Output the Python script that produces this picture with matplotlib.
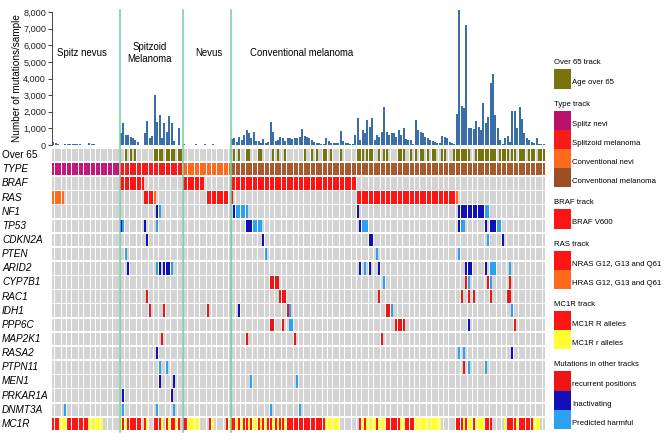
import matplotlib
matplotlib.use("Agg")
import matplotlib.pyplot as plt
from matplotlib.patches import Rectangle
from matplotlib.lines import Line2D
from matplotlib import transforms

plt.rcParams['font.family'] = ['Liberation Sans', 'DejaVu Sans']

# ---------------- data ----------------
group_names = ["Spitz nevus", "Spitzoid\nMelanoma", "Nevus", "Conventional melanoma"]
group_sizes = [28, 26, 20, 130]
group_type = ["S", "M", "N", "C"]

mut_spitz_nevus = [200, 120, 40, 30, 30, 80, 90, 80, 60, 50, 40, 40, 30, 20, 20, 150,
                   60, 40, 30, 20, 30, 20, 30, 20, 30, 20, 30, 20]
mut_spitzoid_mel = [750, 1350, 600, 580, 500, 400, 280, 180, 30, 30, 750, 1450, 400, 520,
                    3000, 1400, 1800, 450, 1350, 800, 1750, 1300, 250, 30, 1050, 30]
mut_nevus = [40, 30, 30, 20, 30, 40, 30, 30, 20, 60, 30, 20, 40, 30, 20, 30, 20, 30, 30, 30]
mut_conventional = [380, 400, 200, 500, 300, 600, 900, 750, 400, 760,
                    250, 250, 150, 350, 100, 200, 1400, 800, 250, 300,
                    500, 400, 250, 400, 400, 350, 400, 400, 500, 950,
                    550, 500, 450, 300, 200, 150, 100, 50, 40, 450,
                    250, 150, 150, 100, 100, 850, 250, 150, 100, 60,
                    40, 600, 1600, 300, 900, 700, 1500, 1100,
                    1600, 300, 600, 500, 800, 2300, 800, 600, 700, 700,
                    500, 900, 600, 1000, 350, 300, 300, 40, 1500, 900,
                    800, 700, 500, 400, 300, 250, 200, 150, 100, 550,
                    500, 400, 200, 100, 50, 1850, 8150, 2350, 2250,
                    7200, 1050, 1050, 950, 1450, 1100, 900, 2500, 1300, 1700,
                    3700, 4300, 1800, 1000, 300, 50, 400, 550, 200, 2050,
                    2050, 1000, 2300, 1550, 700, 400, 300, 200, 100, 400,
                    50, 40, 40]

# dense tracks: one character per sample (blocks of 10)
over65 = (".......... .......... .......... O.O.O..... ..OOOO.OOO O.OO...... .......... "
          ".....O.O.. OO...OO... .O.O..O... ....O..O.O ..OO.O...O ......OOO. OOO..O.OO. "
          "...OOO..O. O.OO.O.OO. .OO...OOOO OOO..OOOOO OOOO.OOOO. OO.OOO.OOO .OOO")
braf = (".......... .......... ........VV VVVVVVVV.. .......... ....VVVVVV VVV....... "
        "....VVVVVV VVVVVVVVVV VVVVVVVVVV VVVVVVVVVV VVVVVVVVVV VVVVVV.... .......... "
        ".......... .......... .......... .......... .......... .......... ....")
ras = ("HHHHH..... .......... .......... ........NN NNH....... .......... ....NNNNNN "
       "NNN.N..... .......... .......... .......... .......... ......NNNN NNNNNNNNNN "
       "NNNNNNNNNN NNNNNNNNNN NNNNNNNH.. .......... .......... .......... ....")
mc1r = ("RRRrrrRRRR RRRRRrrrrr r.......rR rRRRRRR.Rr ..RRRr.RrR RrR.RRrrrr r....Rr... "
        "..RrRRrRrR RrRrrRrRrR RrRrRRrRRR RRRRRRRRRR RRRrrrrrr. .......RrR rrrrRrrrRR "
        "RRRRrrRRRR rrrrrrrrrr r......RRR rRrrRrrrrR RR.....rRR RRrRRRRRRr rr..")

# sparse gene tracks: sample indices per mutation class
# R = recurrent positions, I = inactivating, H = predicted harmful
NF1 = {"I": [43, 75, 126, 168, 169, 170, 171, 172, 173, 174, 175, 176, 177, 178],
       "H": [44, 76, 77, 78, 79, 80, 179, 180]}
TP53 = {"I": [28, 38, 80, 81, 82, 127, 168, 179, 181, 182, 183],
        "H": [29, 43, 83, 84, 85, 86, 128, 129, 130, 169, 170, 184, 185]}
CDKN2A = {"I": [39, 87, 131, 132, 186], "H": [180]}
PTEN = {"H": [30, 88, 134, 168]}
ARID2 = {"I": [31, 44, 46, 47, 48, 127, 131, 135, 171, 172, 173, 179],
         "H": [43, 49, 129, 181, 182, 183, 189]}
CYP7B1 = {"R": [90, 91, 92, 93, 171, 180, 189], "H": [137, 172, 181]}
RAC1 = {"R": [39, 94, 95, 96, 135, 169, 172, 174, 181, 188, 189]}
IDH1 = {"R": [40, 46, 64, 97, 138, 139], "I": [77], "H": [98, 140, 190]}
PPP6C = {"R": [90, 91, 95, 142, 143, 144, 145, 191], "I": [172], "H": [98, 99]}
MAP2K1 = {"R": [45, 80, 100, 136]}
RASA2 = {"I": [43, 190], "H": [168, 170]}
PTPN11 = {"R": [170], "H": [44, 47, 172, 179]}
MEN1 = {"I": [44, 50], "H": [82, 101]}
PRKAR1A = {"I": [29, 49]}
DNMT3A = {"H": [5, 29, 43, 50, 90, 102]}

gene_names = ["NF1", "TP53", "CDKN2A", "PTEN", "ARID2", "CYP7B1", "RAC1", "IDH1", "PPP6C",
              "MAP2K1", "RASA2", "PTPN11", "MEN1", "PRKAR1A", "DNMT3A"]
gene_tracks = [NF1, TP53, CDKN2A, PTEN, ARID2, CYP7B1, RAC1, IDH1, PPP6C,
               MAP2K1, RASA2, PTPN11, MEN1, PRKAR1A, DNMT3A]

# ---------------- styles ----------------
GRAY = "#d3d3d3"
OLIVE = "#75750c"
TYPE_COL = {"S": "#c4187a", "M": "#f51c1c", "N": "#ff6a1c", "C": "#a65a2e"}
BRAF_COL = {"V": "#ff1414"}
RAS_COL = {"N": "#ff1414", "H": "#ff6a1c"}
MC1R_COL = {"R": "#ff1414", "r": "#ffff33"}
MUT_COL = {"R": "#ee1515", "I": "#1010b8", "H": "#2ea0f0"}
BAR_COL = "#3a6ea8"
SEP_COL = "#6fcfa2"

N = sum(group_sizes)


def dense(s):
    s = "".join(s.split())
    return (s + "." * N)[:N]


mutations = mut_spitz_nevus + mut_spitzoid_mel + mut_nevus + mut_conventional
types = []
for g, n in zip(group_type, group_sizes):
    types += [g] * n

W, H = 666, 440
fig = plt.figure(figsize=(W / 100, H / 100), dpi=100)
L, R = 52 / W, 545 / W
axb = fig.add_axes([L, (H - 145) / H, R - L, (145 - 12) / H])
axg = fig.add_axes([L, (H - 431) / H, R - L, (431 - 148) / H])

# ---------------- bar chart ----------------
xs = [i + 0.5 for i in range(N)]
axb.bar(xs, mutations, width=0.86, color=BAR_COL, clip_on=False)
axb.set_xlim(0, N)
axb.set_ylim(0, 8000)
axb.set_yticks(range(0, 8001, 1000))
axb.set_yticklabels([f"{v:,}" for v in range(0, 8001, 1000)])
axb.tick_params(axis="y", labelsize=6.6, length=3, width=0.6, pad=1.2, colors="#222222")
axb.set_xticks([])
for sp in ["top", "right", "bottom"]:
    axb.spines[sp].set_visible(False)
axb.spines["left"].set_linewidth(0.7)
axb.spines["left"].set_color("#444444")
axb.set_ylabel("Number of mutations/sample", fontsize=7.2, labelpad=0.5)

label_pos = [(12.4, 5530), (40.5, 5530), (65.0, 5530), (103.3, 5530)]
for name, (gx, gy) in zip(group_names, label_pos):
    axb.text(gx, gy, name, ha="center", va="center", fontsize=6.9, linespacing=1.15)

# ---------------- oncoprint grid ----------------
rows = ["Over 65", "TYPE", "BRAF", "RAS"] + gene_names + ["MC1R"]
nrows = len(rows)
axg.set_xlim(0, N)
axg.set_ylim(nrows, 0)
axg.axis("off")
CW, CH = 0.8, 0.88


def draw_row(r, colors):
    axg.bar(xs, [CH] * N, bottom=r + (1 - CH) / 2, width=CW, color=colors, linewidth=0)


o65 = dense(over65)
draw_row(0, [OLIVE if c == "O" else GRAY for c in o65])
draw_row(1, [TYPE_COL[t] for t in types])
bs = dense(braf)
draw_row(2, [BRAF_COL.get(c, GRAY) for c in bs])
rs = dense(ras)
draw_row(3, [RAS_COL.get(c, GRAY) for c in rs])
for k, track in enumerate(gene_tracks):
    cols = [GRAY] * N
    for code in ["H", "I", "R"]:
        for idx in track.get(code, []):
            cols[idx] = MUT_COL[code]
    draw_row(4 + k, cols)
ms = dense(mc1r)
draw_row(nrows - 1, [MC1R_COL.get(c, GRAY) for c in ms])

tr = transforms.blended_transform_factory(fig.transFigure, axg.transData)
for r, name in enumerate(rows):
    axg.text(2 / W, r + 0.5, name, transform=tr, ha="left", va="center", fontsize=7.2,
             style="normal" if name == "Over 65" else "italic")

# group separators
bounds = [sum(group_sizes[:k]) for k in range(1, len(group_sizes))]
for b in bounds:
    xf = L + (R - L) * b / N
    fig.add_artist(Line2D([xf, xf], [(H - 432) / H, (H - 10) / H], transform=fig.transFigure,
                          color=SEP_COL, linewidth=1.1))

# ---------------- legend ----------------
legend_sections = [
    ("Over 65 track", [("Age over 65", OLIVE)]),
    ("Type track", [("Splitz nevi", "#b8126a"), ("Splitzoid melanoma", TYPE_COL["M"]),
                    ("Conventional nevi", TYPE_COL["N"]), ("Conventional melanoma", "#9c4f26")]),
    ("BRAF track", [("BRAF V600", BRAF_COL["V"])]),
    ("RAS track", [("NRAS G12, G13 and Q61", RAS_COL["N"]),
                   ("HRAS G12, G13 and Q61", RAS_COL["H"])]),
    ("MC1R track", [("MC1R R alleles", MC1R_COL["R"]), ("MC1R r alleles", MC1R_COL["r"])]),
    ("Mutations in other tracks", [("recurrent positions", MUT_COL["R"]),
                                   ("Inactivating", MUT_COL["I"]),
                                   ("Predicted harmful", MUT_COL["H"])]),
]
lg = fig.add_axes([0, 0, 1, 1])
lg.set_xlim(0, W)
lg.set_ylim(H, 0)
lg.axis("off")
y = 63
for title, items in legend_sections:
    lg.text(554, y, title, fontsize=5.6, ha="left", va="center")
    top = y + 6.5
    for lab, col in items:
        lg.add_patch(Rectangle((554, top), 17, 19.2, facecolor=col, edgecolor="none"))
        lg.text(572, top + 13.5, lab, fontsize=5.6, ha="left", va="center")
        top += 19.2
    y = top + 15.5

fig.savefig("out.png", dpi=100)
